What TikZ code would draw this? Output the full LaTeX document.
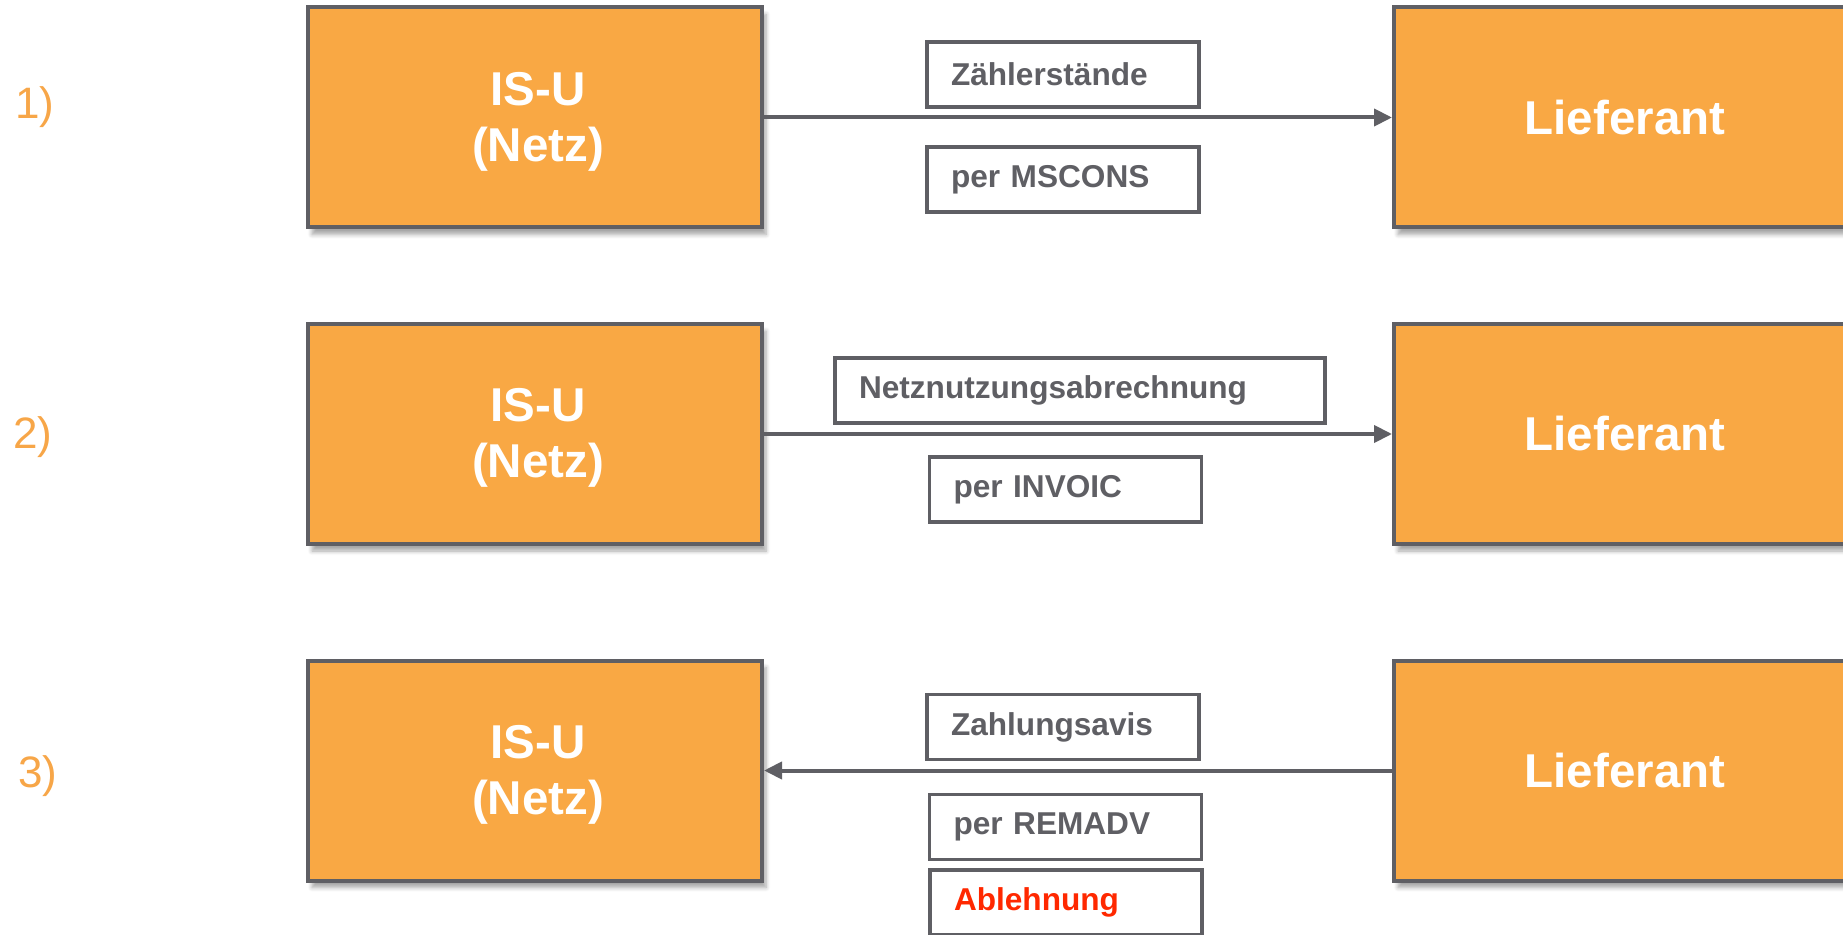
\documentclass[tikz,border=0pt]{standalone}
\usepackage{fontspec}
\setmainfont{Liberation Sans}
\usetikzlibrary{arrows.meta,shadows.blur}
\definecolor{boxorange}{RGB}{249,168,68}
\definecolor{numorange}{RGB}{247,166,72}
\definecolor{edgegray}{RGB}{95,95,100}
\definecolor{rejectred}{RGB}{255,40,0}
\newcommand{\isutext}{\rule{0pt}{20.5pt}\hspace*{3pt}IS-U\\\hspace*{3pt}(Netz)}
\tikzset{
  x=0.5pt, y=-0.5pt,
  sysbox/.style={draw=edgegray, line width=2pt, fill=boxorange, text=white,
    font=\fontsize{23.75}{28}\selectfont\bfseries, align=center,
    minimum height=110pt, inner sep=0pt,
    blur shadow={shadow blur steps=6, shadow xshift=2pt, shadow yshift=-3.5pt, shadow opacity=35}},
  lblbox/.style={draw=edgegray, line width=1.6pt, fill=white, text=edgegray,
    font=\fontsize{15.8}{19}\selectfont\bfseries, align=left,
    minimum height=32.5pt, inner xsep=12pt, inner ysep=0pt},
  numlbl/.style={text=numorange, font=\fontsize{22}{26}\selectfont, inner sep=0pt},
  flow/.style={draw=edgegray, line width=2pt, -{Triangle[length=9pt,width=8.5pt]}}
}
\begin{document}
\begin{tikzpicture}
\useasboundingbox (0,0) rectangle (1843,935);
\clip (0,0) rectangle (1843,935);
% numbers
\node[numlbl] (n1) at (35,107) {1)};
\node[numlbl] (n2) at (33,437) {2)};
\node[numlbl] (n3) at (38,776) {3)};
% row 1
\node[sysbox, minimum width=227pt] (isu1) at (535,117.5) {\isutext};
\node[sysbox, minimum width=231pt] (lf1) at (1625,117.5) {Lieferant};
\draw[flow] (isu1.east) -- (lf1.west);
\node[lblbox, text width=112pt] (l1a) at (1063,74.5) {Zählerstände};
\node[lblbox, text width=112pt] (l1b) at (1063,179.5) {per MSCONS};
% row 2
\node[sysbox, minimum width=227pt] (isu2) at (535,434) {\isutext};
\node[sysbox, minimum width=231pt] (lf2) at (1625,434) {Lieferant};
\draw[flow] (isu2.east) -- (lf2.west);
\node[lblbox, text width=221pt] (l2a) at (1080,390.5) {Netznutzungsabrechnung};
\node[lblbox, text width=112pt] (l2b) at (1065.5,489.5) {per INVOIC};
% row 3
\node[sysbox, minimum width=227pt] (isu3) at (535,770.5) {\isutext};
\node[sysbox, minimum width=231pt] (lf3) at (1625,770.5) {Lieferant};
\draw[flow] (lf3.west) -- (isu3.east);
\node[lblbox, text width=112pt] (l3a) at (1063,727) {Zahlungsavis};
\node[lblbox, text width=112pt] (l3b) at (1065.5,827) {per REMADV};
\node[lblbox, text width=112pt, text=rejectred] (l3c) at (1066,902.5) {Ablehnung};
\end{tikzpicture}
\end{document}
